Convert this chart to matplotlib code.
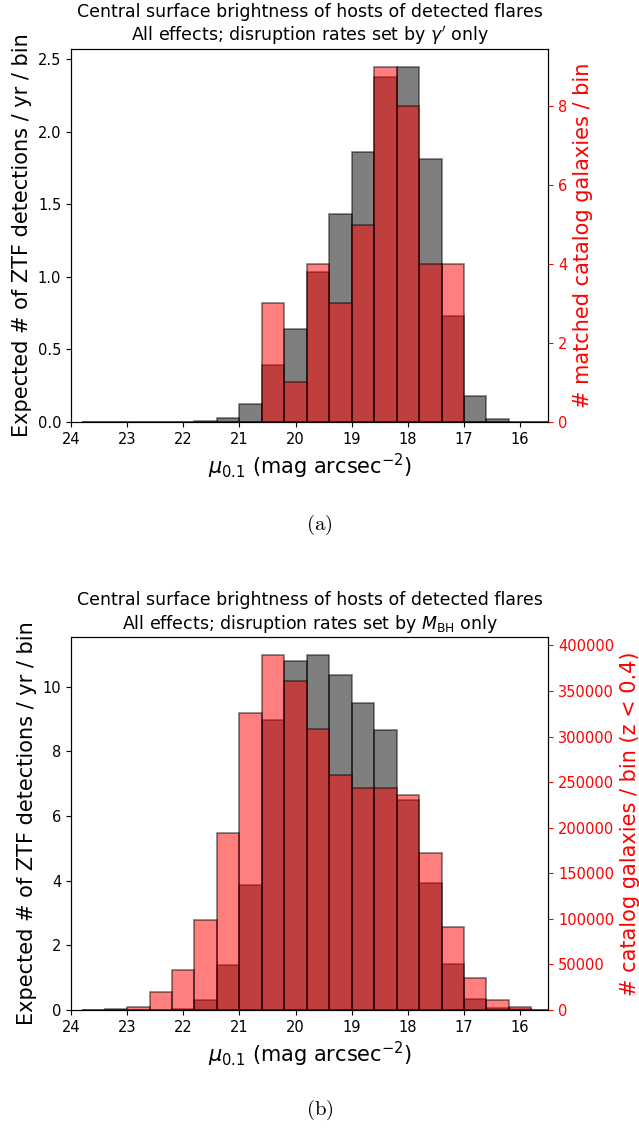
import numpy as np
import matplotlib
matplotlib.use('Agg')
import matplotlib.pyplot as plt

# bin edges in mag arcsec^-2 (bright -> faint)
edges = np.round(15.4 + 0.4 * np.arange(22), 1)
centers = 0.5 * (edges[:-1] + edges[1:])

# panel (a): disruption rates set by gamma' only
det_a = [0, 0, 0.021, 0.177, 0.730, 1.812, 2.45, 2.377, 1.864, 1.435, 1.031,
         0.641, 0.395, 0.126, 0.028, 0.007, 0, 0, 0, 0, 0]
cat_a = [0, 0, 0, 0, 4, 4, 8, 9, 5, 3, 4,
         1, 3, 0, 0, 0, 0, 0, 0, 0, 0]

# panel (b): disruption rates set by M_BH only
det_b = [0.015, 0.02, 0.05, 0.33, 1.42, 3.94, 6.49, 8.67, 9.49, 10.36, 10.99,
         10.79, 8.96, 3.86, 1.39, 0.31, 0.02, 0.01, 0.01, 0.03, 0]
cat_b = [500, 2900, 11000, 34700, 91000, 172200, 235500, 243900, 243100, 257800, 307900,
         360900, 389800, 326100, 193800, 99100, 43900, 20100, 3300, 300, 0]

titles = ['Central surface brightness of hosts of detected flares\n'
          "All effects; disruption rates set by $\\gamma'$ only",
          'Central surface brightness of hosts of detected flares\n'
          'All effects; disruption rates set by $M_{\\rm BH}$ only']
right_labels = ['# matched catalog galaxies / bin',
                '# catalog galaxies / bin (z < 0.4)']
captions = ['(a)', '(b)']

fig = plt.figure(figsize=(6.39, 11.28), dpi=100)
axes = [fig.add_axes([0.111, 0.626, 0.747, 0.3307]),
        fig.add_axes([0.111, 0.1046, 0.747, 0.3307])]
cap_y = [0.5346, 0.016]

for i, (det, cat) in enumerate([(det_a, cat_a), (det_b, cat_b)]):
    ax = axes[i]
    ax.hist(centers, bins=edges, weights=det, color='k', alpha=0.5,
            edgecolor='k', linewidth=1.2)
    ax.set_xlim(24, 15.5)
    ax.set_xticks(np.arange(24, 15, -1))
    ax.set_ylabel('Expected # of ZTF detections / yr / bin', fontsize=15)
    ax.set_xlabel(r'$\mu_{0.1}$ (mag arcsec$^{-2}$)', fontsize=15)
    ax.set_title(titles[i], fontsize=12.5)
    ax.tick_params(labelsize=10.5)

    ax2 = ax.twinx()
    ax2.hist(centers, bins=edges, weights=cat, color='r', alpha=0.5,
             edgecolor='k', linewidth=1.2)
    ax2.set_xlim(24, 15.5)
    ax2.set_ylabel(right_labels[i], color='r', fontsize=15)
    ax2.tick_params(axis='y', colors='r', labelsize=10.5)
    ax2.spines['right'].set_color('k')

    fig.text(0.5, cap_y[i], r'$\mathrm{' + captions[i] + '}$',
             ha='center', va='center', fontsize=15, math_fontfamily='cm')

fig.savefig('out.png', dpi=100)
